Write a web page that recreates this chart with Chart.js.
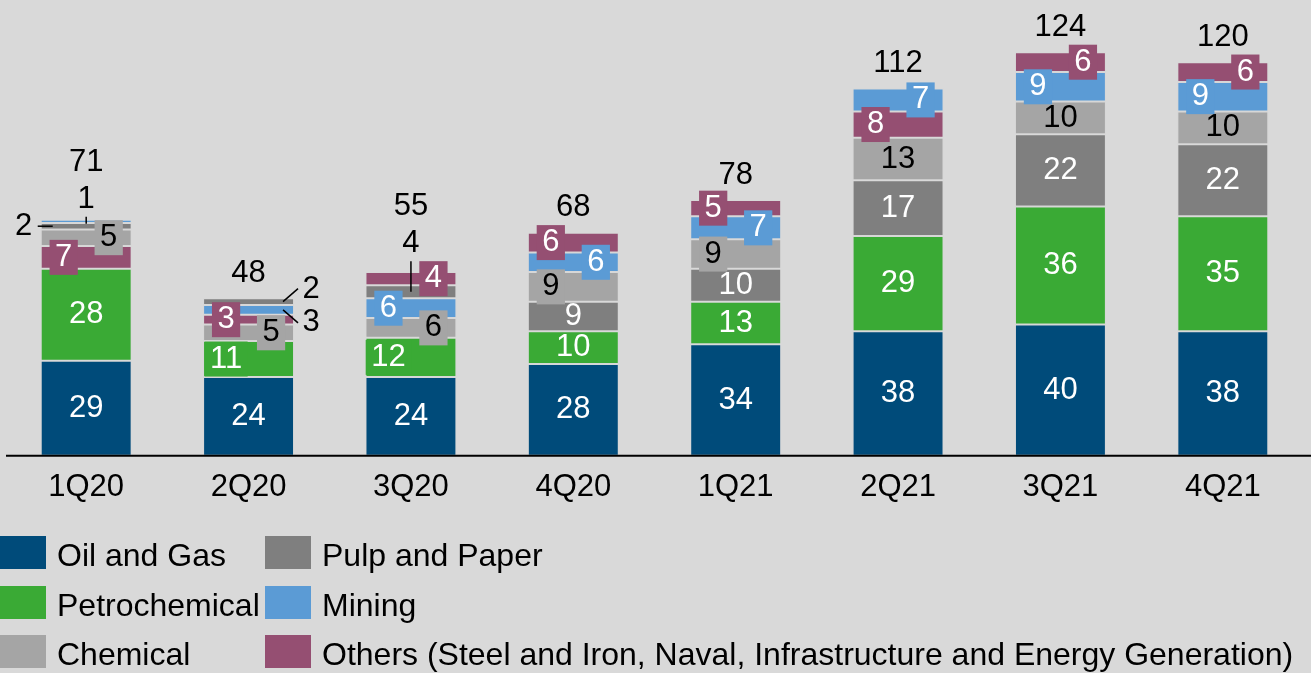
<!DOCTYPE html>
<html>
<head>
<meta charset="utf-8">
<title>Orders by segment</title>
<script src="https://cdn.jsdelivr.net/npm/chart.js@4.4.1/dist/chart.umd.min.js"></script>
<style>
html, body { margin: 0; padding: 0; background: #d9d9d9; }
#wrap { position: relative; width: 1311px; height: 673px; overflow: hidden; font-family: "Liberation Sans", Arial, sans-serif; }
#wrap canvas { position: absolute; left: 0; top: 0; }
.lg { position: absolute; height: 33px; font-size: 32px; line-height: 33px; color: #000; white-space: nowrap; }
.lg i { position: absolute; left: 0; top: 0; width: 46px; height: 33px; }
.lg span { position: absolute; left: 57px; top: 3px; }
</style>
</head>
<body>
<div id="wrap">
  <canvas id="bars" width="1311" height="673"></canvas>
  <div id="legend"></div>
</div>
<script>
// data
var quarters = ["1Q20", "2Q20", "3Q20", "4Q20", "1Q21", "2Q21", "3Q21", "4Q21"];
var oilGas        = [29, 24, 24, 28, 34, 38, 40, 38];
var petrochemical = [28, 11, 12, 10, 13, 29, 36, 35];
var chemical      = [5, 5, 6, 9, 9, 13, 10, 10];
var pulpPaper     = [2, 2, 4, 9, 10, 17, 22, 22];
var mining        = [1, 3, 6, 6, 7, 7, 9, 9];
var others        = [7, 3, 4, 6, 5, 8, 6, 6];
var totals        = [71, 48, 55, 68, 78, 112, 124, 120];

var seriesNames = ["Oil and Gas", "Petrochemical", "Chemical", "Pulp and Paper", "Mining",
    "Others (Steel and Iron, Naval, Infrastructure and Energy Generation)"];
var seriesValues = [oilGas, petrochemical, chemical, pulpPaper, mining, others];
var seriesColors = ["#004b7a", "#3aaa35", "#a5a5a5", "#7f7f7f", "#5b9bd5", "#954f72"];
var labelColors  = ["#fff", "#fff", "#000", "#fff", "#fff", "#fff"];

// the source stacks the segments in a different order from quarter to quarter (bottom -> top)
var stackOrder = [
    [0, 1, 5, 2, 3, 4],
    [0, 1, 2, 5, 4, 3],
    [0, 1, 2, 4, 3, 5],
    [0, 1, 3, 2, 4, 5],
    [0, 1, 3, 2, 4, 5],
    [0, 1, 3, 2, 5, 4],
    [0, 1, 3, 2, 4, 5],
    [0, 1, 3, 2, 4, 5]
];

// where each value label sits: c centre, l / r shifted with a box, o* outside with a leader line
var labelPlace = [
    ["c", "c", "r", "oL", "oT", "l"],
    ["c", "l", "r", "oRU", "oRD", "l"],
    ["c", "l", "r", "oT", "l", "r"],
    ["c", "c", "l", "c", "r", "l"],
    ["c", "c", "l", "c", "r", "l"],
    ["c", "c", "c", "c", "r", "l"],
    ["c", "c", "c", "c", "l", "r"],
    ["c", "c", "c", "c", "l", "r"]
];

var FONT = '31px "Liberation Sans", Arial, sans-serif';

function floatingData(s) {
    return quarters.map(function (q, i) {
        var start = 0;
        for (var k = 0; k < stackOrder[i].length; k++) {
            var id = stackOrder[i][k];
            if (id === s) return [start, start + seriesValues[s][i]];
            start += seriesValues[id][i];
        }
    });
}

var datasets = seriesNames.map(function (name, s) {
    return {
        label: name,
        data: floatingData(s),
        backgroundColor: seriesColors[s],
        borderColor: "rgba(210,210,210,0.22)",
        borderWidth: 1,
        borderSkipped: false
    };
});

var valueLabels = {
    id: "valueLabels",
    afterDatasetsDraw: function (chart) {
        var ctx = chart.ctx;
        var area = chart.chartArea;
        ctx.save();
        // axis line
        ctx.strokeStyle = "#000";
        ctx.lineWidth = 2;
        ctx.beginPath();
        ctx.moveTo(6, area.bottom);
        ctx.lineTo(chart.width, area.bottom);
        ctx.stroke();

        ctx.font = FONT;
        ctx.textAlign = "center";
        ctx.textBaseline = "middle";
        ctx.lineWidth = 1.5;
        quarters.forEach(function (q, i) {
            var barTop = area.bottom;
            var topLabelY = null;
            stackOrder[i].forEach(function (s) {
                var el = chart.getDatasetMeta(s).data[i];
                var txt = String(seriesValues[s][i]);
                var cy = (el.y + el.base) / 2;
                var left = el.x - el.width / 2, right = el.x + el.width / 2;
                var place = labelPlace[i][s];
                barTop = Math.min(barTop, el.y);
                if (place === "c" || place === "l" || place === "r") {
                    var x = el.x + (place === "l" ? -22.5 : place === "r" ? 22.5 : 0);
                    if (place !== "c") {
                        var w = ctx.measureText(txt).width + 11;
                        ctx.fillStyle = seriesColors[s];
                        ctx.fillRect(x - w / 2, cy - 17.5, w, 35);
                    }
                    ctx.fillStyle = labelColors[s];
                    ctx.fillText(txt, x, cy);
                } else {
                    ctx.strokeStyle = "#000";
                    ctx.fillStyle = "#000";
                    ctx.beginPath();
                    var tx, ty;
                    if (place === "oT") {
                        var tall = seriesValues[s][i] > 2;
                        ctx.moveTo(el.x, tall ? cy : el.y + 4);
                        ctx.lineTo(el.x, el.y - (tall ? 24 : 3));
                        tx = el.x; ty = el.y - (tall ? 42 : 20);
                        topLabelY = ty;
                    } else if (place === "oL") {
                        ctx.moveTo(left + 12, cy);
                        ctx.lineTo(left - 3, cy);
                        tx = left - 17; ty = cy;
                    } else if (place === "oRU") {
                        ctx.moveTo(right - 11, cy);
                        ctx.lineTo(right + 4, cy - 13);
                        tx = right + 17; ty = cy - 12;
                    } else {
                        ctx.moveTo(right - 11, cy);
                        ctx.lineTo(right + 4, cy + 13);
                        tx = right + 17; ty = cy + 13;
                    }
                    ctx.stroke();
                    ctx.fillText(txt, tx, ty);
                }
            });
            ctx.fillStyle = "#000";
            var totalY = topLabelY !== null ? topLabelY - 37 : barTop - 25;
            ctx.fillText(String(totals[i]), chart.getDatasetMeta(0).data[i].x, totalY);
        });
        ctx.restore();
    }
};

var chart = new Chart(document.getElementById("bars"), {
    type: "bar",
    data: { labels: quarters, datasets: datasets },
    options: {
        responsive: false,
        animation: false,
        events: [],
        layout: { padding: { left: 5, right: 7, top: 13, bottom: 154 } },
        categoryPercentage: 1,
        barPercentage: 0.56,
        plugins: {
            legend: { display: false },
            tooltip: { enabled: false }
        },
        scales: {
            x: {
                stacked: true,
                grid: { display: false, drawTicks: false },
                border: { display: false },
                ticks: {
                    color: "#000",
                    padding: 13,
                    maxRotation: 0,
                    autoSkip: false,
                    font: { family: '"Liberation Sans", Arial, sans-serif', size: 31 }
                }
            },
            y: {
                display: false,
                stacked: false,
                min: 0,
                max: 135
            }
        }
    },
    plugins: [valueLabels]
});

// legend in two columns, column-major like the source
var legend = document.getElementById("legend");
seriesNames.forEach(function (name, s) {
    var col = Math.floor(s / 3), row = s % 3;
    var item = document.createElement("div");
    item.className = "lg";
    item.style.left = (col * 265) + "px";
    item.style.top = (536 + row * 49.5) + "px";
    item.innerHTML = '<i style="background:' + seriesColors[s] + '"></i><span></span>';
    item.querySelector("span").textContent = name;
    legend.appendChild(item);
});
</script>
</body>
</html>
